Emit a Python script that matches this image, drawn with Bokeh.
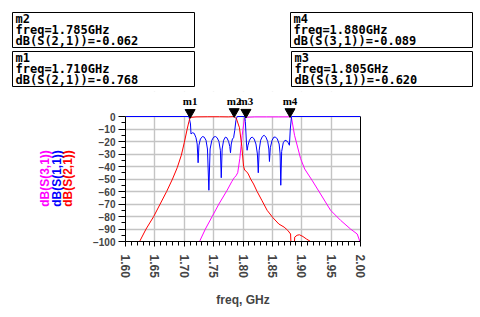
import math
from bokeh.plotting import figure
from bokeh.layouts import column, row
from bokeh.models import FixedTicker, Range1d, LinearAxis, BoxAnnotation, ColumnDataSource
from bokeh.core.properties import value
from bokeh.embed import file_html
from bokeh.resources import INLINE

# ---------------- data ----------------
x_ticks = [1.60, 1.65, 1.70, 1.75, 1.80, 1.85, 1.90, 1.95, 2.00]
x_tick_labels = ["1.60", "1.65", "1.70", "1.75", "1.80", "1.85", "1.90", "1.95", "2.00"]
y_ticks = [0, -10, -20, -30, -40, -50, -60, -70, -80, -90, -100]

# dB(S(2,1)) red
s21_f = [1.620, 1.624, 1.635, 1.648, 1.659, 1.670, 1.680, 1.688, 1.695, 1.700, 1.705,
         1.708, 1.710, 1.720, 1.740, 1.760, 1.775, 1.785, 1.789, 1.794, 1.798, 1.801,
         1.803, 1.806, 1.809, 1.813, 1.818, 1.824, 1.832, 1.841, 1.851, 1.861, 1.870,
         1.876, 1.881, 1.8825, 1.8865, 1.888, 1.892, 1.896, 1.902, 1.908, 1.915, 1.920]
s21_db = [-105, -100, -90, -80, -70, -60, -50, -41, -31, -21, -10,
          -4, -0.77, -0.3, -0.2, -0.2, -0.3, -0.06, -2, -9, -24, -40,
          -43, -44, -46, -50, -54, -60, -67, -75, -81, -86, -88.5,
          -91, -94, -112, -112, -96.5, -95, -94.6, -96, -98, -100, -105]

# dB(S(1,1)) blue
s11_f = [1.600, 1.708, 1.7106, 1.7115, 1.714, 1.717, 1.720, 1.722, 1.7236, 1.7250,
         1.7275, 1.7310, 1.7340, 1.7370, 1.7395, 1.7419, 1.7440, 1.7470, 1.7500, 1.7530,
         1.7560, 1.7590, 1.7615, 1.7630, 1.7645, 1.7670, 1.7700, 1.7725, 1.7755, 1.7775,
         1.7787, 1.7800, 1.7820, 1.7840, 1.7860, 1.7880, 1.7900, 1.8030, 1.8040, 1.8060,
         1.8070, 1.8085, 1.8110, 1.8135, 1.8160, 1.8190, 1.8220, 1.8245, 1.8260, 1.8275,
         1.8300, 1.8330, 1.8360, 1.8390, 1.8420, 1.8440, 1.8450, 1.8465, 1.8495, 1.8525,
         1.8555, 1.8585, 1.8615, 1.8632, 1.8643, 1.8658, 1.8685, 1.8715, 1.8745, 1.8770,
         1.8790, 1.8805, 1.8826, 2.000]
s11_db = [0, 0, -6, -14, -13, -13.5, -17, -22, -37, -23,
          -18, -16, -16.5, -19, -26, -59, -26, -19, -16.5, -16,
          -17, -20, -27, -49, -26, -19, -16.5, -17, -20, -24,
          -29, -22, -18, -17, -11, -3, 0, 0, -4, -22,
          -27, -23, -19, -17, -16.5, -18, -22, -30, -45, -27,
          -19, -16, -15, -16.5, -20, -26, -36, -25, -19, -16.5,
          -16.5, -18, -22, -30, -55, -28, -21, -19, -19.5, -21,
          -23, -10, 0, 0]

# dB(S(3,1)) magenta
s31_f = [1.722, 1.726, 1.736, 1.7475, 1.759, 1.773, 1.781, 1.785, 1.788, 1.791,
         1.7946, 1.7986, 1.8025, 1.805, 1.820, 1.840, 1.860, 1.875, 1.880, 1.8826,
         1.8877, 1.898, 1.905, 1.9175, 1.932, 1.949, 1.966, 1.983, 1.9944, 1.999, 2.0]
s31_db = [-105, -100, -90, -80, -70, -59, -52, -49, -47.5, -45,
          -33.6, -15, -1.6, -0.62, -0.3, -0.3, -0.3, -0.3, -0.089, -1,
          -15, -33.6, -42, -51, -62, -75, -83, -90, -94, -100, -101]

marker_names = ["m1", "m2", "m3", "m4"]
marker_freq = [1.710, 1.785, 1.805, 1.880]
marker_db = [-0.768, -0.062, -0.620, -0.089]
marker_trace = ["dB(S(2,1))", "dB(S(2,1))", "dB(S(3,1))", "dB(S(3,1))"]
marker_freq_text = ["1.710GHz", "1.785GHz", "1.805GHz", "1.880GHz"]
marker_val_text = ["-0.768", "-0.062", "-0.620", "-0.089"]

legend_names = ["dB(S(3,1))", "dB(S(1,1))", "dB(S(2,1))"]

# ---------------- styles / layout ----------------
RED = "#ff0000"
BLUE = "#0000ff"
MAG = "#ff00ff"
GRID = "#c4c4c4"
W, H = 476, 312
TOP_H = 91          # height of the marker-readout strip
LEG_W = 80          # width of the legend strip
Y_LO, Y_HI = -100, 20
FRAME_L, FRAME_R, FRAME_B = 125, 360, 241   # page pixel edges of the plot frame
BOX_FONT = "DejaVu Sans Mono"


def bare(fig):
    fig.outline_line_color = None
    fig.background_fill_color = "white"
    fig.border_fill_color = "white"
    fig.grid.visible = False
    return fig


# ---- top strip: marker readout boxes (page-pixel coordinates) ----
top = bare(figure(width=W, height=TOP_H, output_backend="svg", toolbar_location=None,
                  x_range=Range1d(0, W), y_range=Range1d(TOP_H, 0),
                  x_axis_location=None, y_axis_location=None, min_border=0))
box_pos = {"m2": (12, 12, 194, 47), "m1": (12, 51, 194, 86),
           "m4": (290, 12, 472, 47), "m3": (291, 51, 472, 86)}
bl, bt, br, bb = [], [], [], []
tx, ty, tt = [], [], []
LINE_H = 11.2
for nm, fr, tr, vt in zip(marker_names, marker_freq_text, marker_trace, marker_val_text):
    l, t, r, b = box_pos[nm]
    bl.append(l); bt.append(t); br.append(r); bb.append(b)
    for k, s in enumerate([nm, f"freq={fr}", f"{tr}={vt}"]):
        tx.append(l + 3)
        ty.append(t + 6.3 + k * LINE_H)
        tt.append(s)
top.quad(left=bl, right=br, top=bt, bottom=bb, fill_color="white",
         line_color="black", line_width=1)
top.text(x=tx, y=ty, text=tt, text_align="left", text_baseline="middle",
         text_font=value(BOX_FONT), text_font_style="bold", text_font_size="12px",
         text_color="black")

# ---- left strip: rotated legend (its frame is row-aligned with the main frame) ----
LEG_H = H - TOP_H
leg = bare(figure(width=LEG_W, height=LEG_H, output_backend="svg", toolbar_location=None,
                  x_range=Range1d(0, LEG_W), y_range=Range1d(FRAME_B, TOP_H),
                  x_axis_location=None, y_axis_location=None, min_border=0))
leg_colors = [MAG, BLUE, RED]
leg_x = [44, 56, 67]
leg.text(x=leg_x, y=[178] * 3, text=legend_names, angle=math.pi / 2,
         text_align="center", text_baseline="middle", text_color=leg_colors,
         text_font=value("Liberation Sans"), text_font_style="bold", text_font_size="12px")

# ---- main plot ----
MW = W - LEG_W
p = figure(width=MW, height=LEG_H, output_backend="svg", toolbar_location=None,
           x_range=Range1d(1.6, 2.0), y_range=Range1d(Y_LO, Y_HI),
           min_border_left=FRAME_L - LEG_W, min_border_right=W - FRAME_R,
           min_border_top=0, min_border_bottom=H - FRAME_B)
p.outline_line_color = None
p.background_fill_color = "white"
p.border_fill_color = "white"

p.xaxis.ticker = FixedTicker(ticks=x_ticks,
                             minor_ticks=[round(1.6 + 0.01 * i, 2) for i in range(41)])
p.xaxis.major_label_overrides = {t: l for t, l in zip(x_ticks, x_tick_labels)}
p.xaxis.major_label_orientation = -math.pi / 2
p.xaxis.major_label_text_font = "Liberation Sans"
p.xaxis.major_label_text_font_style = "bold"
p.xaxis.major_label_text_font_size = "12px"
p.xaxis.major_label_standoff = 8
p.xaxis.major_tick_in = 0
p.xaxis.major_tick_out = 5
p.xaxis.minor_tick_in = 0
p.xaxis.minor_tick_out = 4
p.xaxis.axis_label = "freq, GHz"
p.xaxis.axis_label_text_font = "Liberation Sans"
p.xaxis.axis_label_text_font_style = "bold"
p.xaxis.axis_label_text_font_size = "12px"
p.xaxis.axis_label_standoff = 12
p.xaxis.axis_line_color = "black"

p.yaxis.ticker = FixedTicker(ticks=y_ticks, minor_ticks=[-95, -85, -75, -65, -55, -45, -35, -25, -15, -5])
p.yaxis.bounds = (Y_LO, 0)
p.yaxis.major_label_text_font = "Liberation Sans"
p.yaxis.major_label_text_font_style = "bold"
p.yaxis.major_label_text_font_size = "10px"
p.yaxis.major_label_standoff = 3
p.yaxis.major_tick_in = 0
p.yaxis.major_tick_out = 7
p.yaxis.minor_tick_in = 0
p.yaxis.minor_tick_out = 4

right = LinearAxis(bounds=(Y_LO, 0), ticker=FixedTicker(ticks=[]),
                   major_tick_line_color=None, minor_tick_line_color=None,
                   axis_line_color="black")
p.add_layout(right, "right")

p.xgrid.ticker = FixedTicker(ticks=x_ticks)
p.ygrid.ticker = FixedTicker(ticks=y_ticks)
p.grid.grid_line_color = GRID
p.grid.grid_line_width = 1.4
p.ygrid.bounds = (Y_LO, 0)
p.add_layout(BoxAnnotation(bottom=0, fill_color="white", fill_alpha=1.0,
                           line_color=None, level="underlay"))

p.line(s31_f, s31_db, line_color=MAG, line_width=1)
p.line(s11_f, s11_db, line_color=BLUE, line_width=1)
p.line(s21_f, s21_db, line_color=RED, line_width=1)

px_per_db = (FRAME_B - TOP_H) / (Y_HI - Y_LO)
TRI = 10
tri_y = [v + (TRI / 2) / px_per_db for v in marker_db]
p.scatter(marker_freq, tri_y, marker="inverted_triangle", size=TRI,
          fill_color="black", line_color="black")
msrc = ColumnDataSource(dict(x=marker_freq, y=[0] * 4, t=marker_names))
p.text(x="x", y="y", text="t", source=msrc, text_align="center", text_baseline="bottom",
       y_offset=-TRI, text_font=value("Liberation Serif"), text_font_style="bold",
       text_font_size="11px", text_color="black")

layout = column(top, row(leg, p, spacing=0), spacing=0)
open("out.html", "w").write(file_html(layout, INLINE))
